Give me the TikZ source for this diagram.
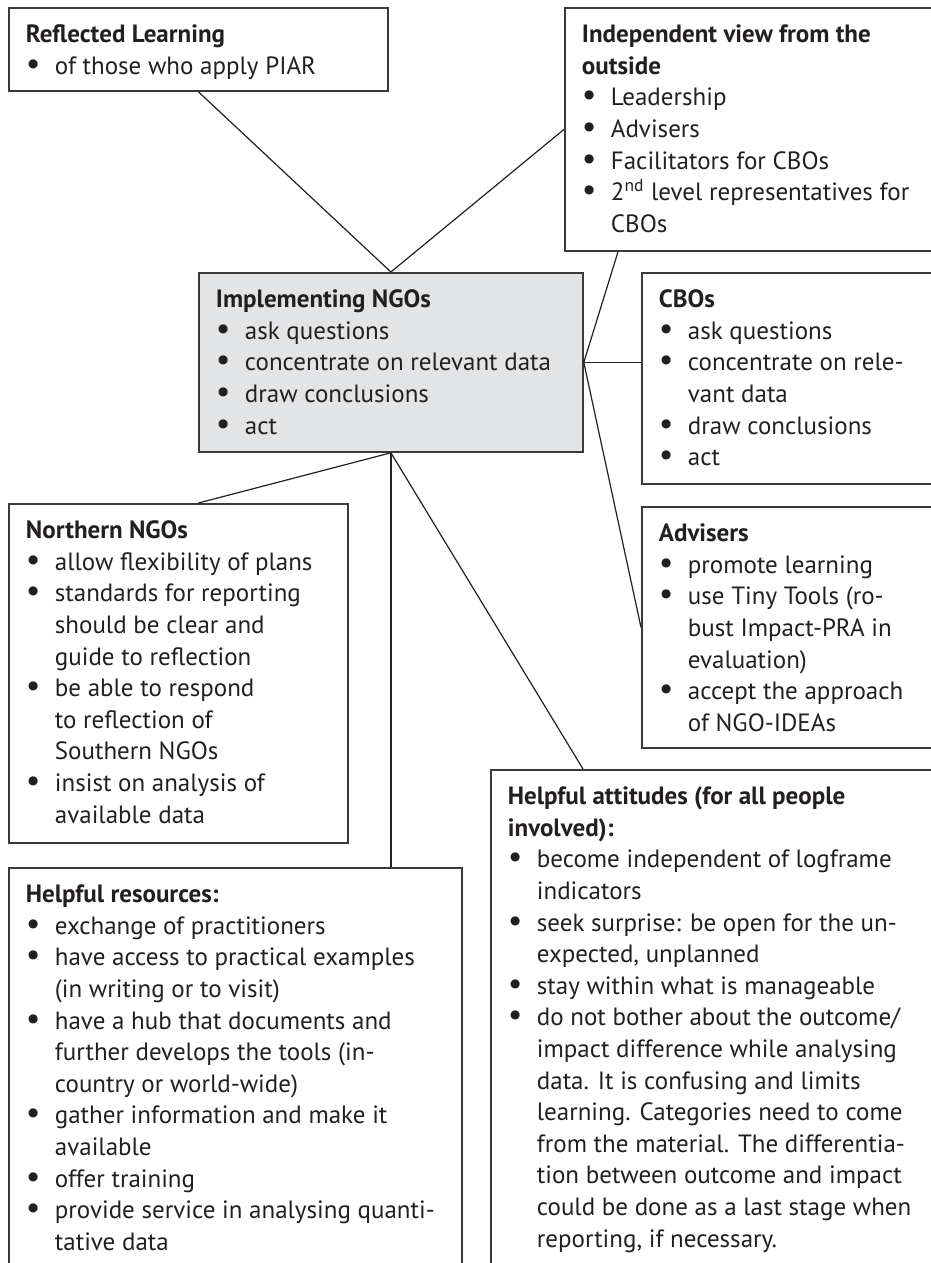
\documentclass[tikz,border=0pt]{standalone}
\usepackage{fontspec}
\setmainfont{PT Sans}
\usetikzlibrary{positioning, calc}
\definecolor{boxline}{HTML}{3A3A3A}
\definecolor{boxfill}{HTML}{E3E4E6}
\definecolor{darktext}{HTML}{231F20}

\newcommand{\bul}{\makebox[14.5pt][l]{\scalebox{1.3}{\textbullet}}}
\newcommand{\ind}{\hspace*{14.5pt}}
\newcommand{\boxtext}[3]{\begin{minipage}[t][#2][t]{#1}\raggedright #3\end{minipage}}

\tikzset{
  infobox/.style={draw=boxline, line width=0.9pt, anchor=north west,
    inner xsep=8.5pt, inner ysep=8.5pt, text=darktext,
    font=\fontsize{12.5}{15.8}\selectfont},
  mainbox/.style={infobox, fill=boxfill},
  link/.style={draw=darktext, line width=0.6pt}
}

\begin{document}
\begin{tikzpicture}[x=1pt, y=-1pt]
  \useasboundingbox (0,0) rectangle (465.5,631.5);
  \clip (0,0) rectangle (465.5,631.5);
  % top row
  \node[infobox] (rl) at (4,3.5) {\boxtext{172.5pt}{24.5pt}{%
    \textbf{Reflected Learning}\\
    \bul of those who apply PIAR}};
  \node[infobox] (iv) at (282,3.5) {\boxtext{180pt}{104.5pt}{%
    \textbf{Independent view from the}\\
    \textbf{outside}\\
    \bul Leadership\\
    \bul Advisers\\
    \bul Facilitators for CBOs\\
    \bul 2\textsuperscript{nd} level representatives for\\
    \ind CBOs}};
  % centre
  \node[mainbox] (impl) at (99,136) {\boxtext{175pt}{72.5pt}{%
    \textbf{Implementing NGOs}\\
    \bul ask questions\\
    \bul concentrate on relevant data\\
    \bul draw conclusions\\
    \bul act}};
  % right column
  \node[infobox] (cbo) at (320.5,136) {\boxtext{140pt}{88.5pt}{%
    \textbf{CBOs}\\
    \bul ask questions\\
    \bul concentrate on rele-\\
    \ind vant data\\
    \bul draw conclusions\\
    \bul act}};
  \node[infobox] (adv) at (320.5,253) {\boxtext{140pt}{103.5pt}{%
    \textbf{Advisers}\\
    \bul promote learning\\
    \bul use Tiny Tools (ro-\\
    \ind bust Impact-PRA in\\
    \ind evaluation)\\
    \bul accept the approach\\
    \ind of NGO-IDEAs}};
  % left column
  \node[infobox] (nn) at (4,251.5) {\boxtext{152.5pt}{152.5pt}{%
    \textbf{Northern NGOs}\\
    \bul allow flexibility of plans\\
    \bul standards for reporting\\
    \ind should be clear and\\
    \ind guide to reflection\\
    \bul be able to respond\\
    \ind to reflection of\\
    \ind Southern NGOs\\
    \bul insist on analysis of\\
    \ind available data}};
  % bottom row
  \node[infobox] (hr) at (4,433.5) {\boxtext{209.5pt}{200pt}{%
    \textbf{Helpful resources:}\\
    \bul exchange of practitioners\\
    \bul have access to practical examples\\
    \ind (in writing or to visit)\\
    \bul have a hub that documents and\\
    \ind further develops the tools (in-\\
    \ind country or world-wide)\\
    \bul gather information and make it\\
    \ind available\\
    \bul offer training\\
    \bul provide service in analysing quanti-\\
    \ind tative data}};
  \node[infobox] (ha) at (245,384.5) {\boxtext{222pt}{262pt}{%
    \textbf{Helpful attitudes (for all people}\\
    \textbf{involved):}\\
    \bul become independent of logframe\\
    \ind indicators\\
    \bul seek surprise: be open for the un-\\
    \ind expected, unplanned\\
    \bul stay within what is manageable\\
    \bul do not bother about the outcome/\\
    \ind impact difference while analysing\\
    \ind data. It is confusing and limits\\
    \ind learning. Categories need to come\\
    \ind from the material. The differentia-\\
    \ind tion between outcome and impact\\
    \ind could be done as a last stage when\\
    \ind reporting, if necessary.}};
  % connectors
  \draw[link] (rl.south) -- (impl.north);
  \draw[link] (impl.north) -- (iv.west);
  \draw[link] (impl.east) -- ([xshift=27pt]iv.south west);
  \draw[link] (impl.east) -- (impl.east -| cbo.west);
  \draw[link] (impl.east) -- (adv.west);
  \draw[link] (impl.south) -- (rl.south |- nn.north);
  \draw[link] (impl.south) -- ([xshift=46.5pt]ha.north west);
  \draw[link] (impl.south) -- (impl.south |- hr.north);
\end{tikzpicture}
\end{document}
